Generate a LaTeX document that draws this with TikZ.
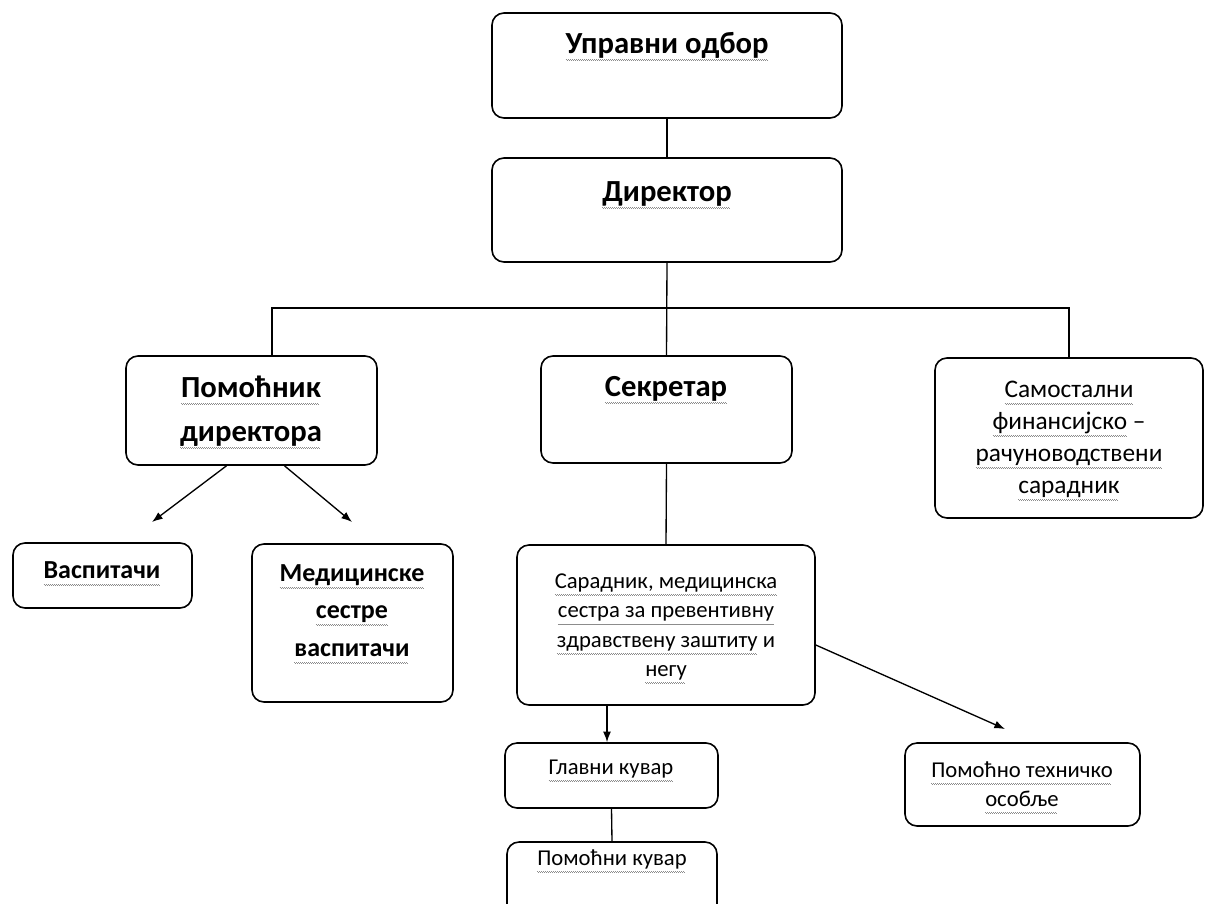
\documentclass[tikz,border=0pt]{standalone}
\usepackage{fontspec}
\setmainfont{Carlito}
\usetikzlibrary{arrows.meta,calc,fit}

% wavy grey underline, like the spell checker marks
\newcommand\sq[1]{\setbox0=\hbox{#1}\rlap{\hbox to \wd0{\color{black!45}\leaders\hbox{\vrule height-4.2pt depth4.9pt width.75pt\vrule height-4.9pt depth5.6pt width.75pt}\hfill}}\box0\relax}

\tikzset{
  box/.style={draw, rounded corners=9pt, line width=1.2pt, inner sep=0pt},
  bigtxt/.style={font=\fontsize{23}{33}\selectfont\bfseries, align=center},
  midtxt/.style={font=\fontsize{19.5}{28}\selectfont\bfseries, align=center},
  samtxt/.style={font=\fontsize{19}{24}\selectfont, align=center},
  smalltxt/.style={font=\fontsize{17}{22}\selectfont, align=center},
}

\begin{document}
\begin{tikzpicture}[x=0.75pt,y=-0.75pt,>={Latex[length=8pt,width=6pt]},line width=1pt]
    \useasboundingbox (0,0) rectangle (1205,903);
    \clip (0,0) rectangle (1205,903);

    \node[box, fit={(492,13) (842,118)}] (upr) {};
    \node[box, fit={(492,158) (842,262)}] (dir) {};
    \node[box, fit={(126,356) (377,465)}] (pom) {};
    \node[box, fit={(541,356) (792,463)}] (sek) {};
    \node[box, fit={(935,358) (1203,518)}] (sam) {};
    \node[box, fit={(13,543) (192,608)}] (vas) {};
    \node[box, fit={(252,544) (453,702)}] (med) {};
    \node[box, fit={(517,545) (815,705)}] (sar) {};
    \node[box, fit={(505,743) (718,808)}] (gla) {};
    \node[box, fit={(507,842) (717,930)}] (pku) {};
    \node[box, fit={(905,743) (1140,826)}] (pte) {};

    \node[bigtxt] (uprT) at (667,47) {\sq{Управни одбор}};
    \node[bigtxt] (dirT) at (667,195) {\sq{Директор}};
    \node[bigtxt] (pomT) at (251,412) {\sq{Помоћник}\\\sq{директора}};
    \node[bigtxt] (sekT) at (666,390) {\sq{Секретар}};
    \node[samtxt] (samT) at (1069,441) {\sq{Самостални}\\\sq{финансијско} –\\\sq{рачуноводствени}\\\sq{сарадник}};
    \node[midtxt] (vasT) at (102,574) {\sq{Васпитачи}};
    \node[midtxt] (medT) at (352,614) {\sq{Медицинске}\\\sq{сестре}\\\sq{васпитачи}};
    \node[smalltxt] (sarT) at (666,629) {\sq{Сарадник, медицинска}\\\sq{сестра за превентивну}\\\sq{здравствену заштиту} и\\\sq{негу}};
    \node[smalltxt] (glaT) at (611,771) {\sq{Главни кувар}};
    \node[smalltxt] (pkuT) at (612,861) {\sq{Помоћни кувар}};
    \node[smalltxt] (pteT) at (1022,788) {\sq{Помоћно техничко}\\\sq{особље}};

    \coordinate (busL) at (272,308);
    \coordinate (busR) at (1069,308);
    \coordinate (vasTip) at (152,522);
    \coordinate (medTip) at (352,522);
    \coordinate (pteTip) at (1005,729);

    \draw (upr.south) -- (dir.north);
    \draw (dir.south) -- (sek.north);
    \draw (pom.north -| busL) -- (busL) -- (busR) -- (sam.north);
    \draw[->] ($(pom.south)+(-25,0)$) -- (vasTip);
    \draw[->] ($(pom.south)+(33,0)$) -- (medTip);
    \draw (sek.south) -- (sar.north);
    \draw[->] (sar.south -| 607,0) -- (gla.north -| 607,0);
    \draw (gla.south) -- (pku.north);
    \draw[->] ($(sar.east)+(0,20)$) -- (pteTip);
\end{tikzpicture}
\end{document}
